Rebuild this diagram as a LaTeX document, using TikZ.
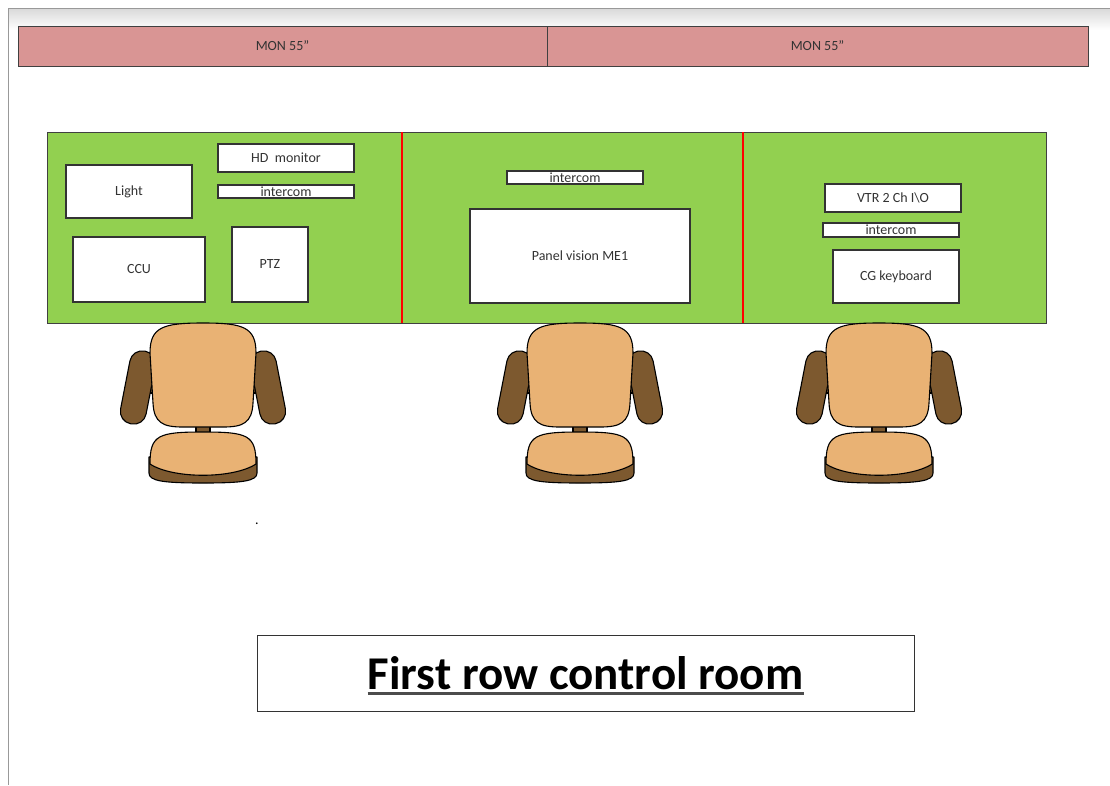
\documentclass[tikz,border=0pt]{standalone}
\usepackage{fontspec}
\setmainfont{Carlito}
\usepackage{tikz}
\usetikzlibrary{positioning}
\definecolor{monred}{RGB}{217,149,148}
\definecolor{deskgreen}{RGB}{146,208,80}
\definecolor{seattan}{RGB}{233,178,116}
\definecolor{armbrown}{RGB}{125,89,47}

\begin{document}
\begin{tikzpicture}[x=1pt,y=-1pt, every node/.style={font=\fontsize{14}{16}\selectfont}]
    \tikzset{monitor/.style={draw=black!75,line width=1pt,fill=monred,text=black!80,inner sep=0pt}}
    \tikzset{desk/.style={draw=black!75,line width=1pt,fill=deskgreen,inner sep=0pt}}
    \tikzset{unit/.style={draw=black!80,line width=1.1pt,fill=white,text=black!80,inner sep=0pt}}
    \tikzset{divider/.style={draw=red,line width=1.6pt}}
    \tikzset{chairline/.style={draw=black,line width=1.1pt,line join=round}}
    \useasboundingbox (0,0) rectangle (1110,785);

    % Page edge
    \shade[top color=gray!30,bottom color=white] (8,8) rectangle (1110,30);
    \draw[gray!80,line width=1pt] (1110,8) -- (8,8) -- (8,785);

    % Wall monitors
    \node[monitor,minimum width=529,minimum height=40] (monleft) at (282.5,46) {MON 55"};
    \node[monitor,minimum width=541,minimum height=40] (monright) at (817.5,46) {MON 55"};

    % Desk
    \node[desk,minimum width=999,minimum height=191] (desk) at (546.5,227.5) {};
    \draw[divider] (402,132) -- (402,323);
    \draw[divider] (743,132) -- (743,323);

    % Left position
    \node[unit,minimum width=136,minimum height=28] (hdmon) at (286,158) {HD\ \ monitor};
    \node[unit,minimum width=136,minimum height=13] (icomleft) at (286,191.5) {intercom};
    \node[unit,minimum width=126,minimum height=53] (light) at (129,191.5) {Light};
    \node[unit,minimum width=132,minimum height=65] (ccu) at (139,269.5) {CCU};
    \node[unit,minimum width=76,minimum height=75] (ptz) at (270,264.5) {PTZ};

    % Middle position
    \node[unit,minimum width=136,minimum height=13] (icommid) at (575,177.5) {intercom};
    \node[unit,minimum width=220,minimum height=94] (panel) at (580,256) {Panel vision ME1};

    % Right position
    \node[unit,minimum width=136,minimum height=28] (vtr) at (893,198) {VTR 2 Ch I\textbackslash O};
    \node[unit,minimum width=136,minimum height=14] (icomright) at (891,230) {intercom};
    \node[unit,minimum width=126,minimum height=53] (cgkey) at (896,276.5) {CG keyboard};

    % Chairs
    \foreach \cx in {203,580,879} {
      \begin{scope}[shift={(\cx,323)}]
        \fill[armbrown,chairline] (-62,55) rectangle (62,70);
        \fill[armbrown,chairline] (-7,100) rectangle (7,112);
        \begin{scope}[shift={(-65,64.5)},rotate=-11]
          \draw[chairline,fill=armbrown,rounded corners=12.5pt] (-13,-37) rectangle (13,37);
        \end{scope}
        \begin{scope}[shift={(65,64.5)},rotate=11]
          \draw[chairline,fill=armbrown,rounded corners=12.5pt] (-13,-37) rectangle (13,37);
        \end{scope}
        \draw[chairline,fill=seattan] (-53,30) .. controls (-53,4) and (-40,0) .. (0,0)
          .. controls (40,0) and (53,4) .. (53,30) -- (50,80)
          .. controls (49,100) and (40,104) .. (20,104) -- (-20,104)
          .. controls (-40,104) and (-49,100) .. (-50,80) -- cycle;
        \draw[chairline,fill=armbrown] (-54,134) -- (-54,150) .. controls (-54,158) and (-40,160) .. (0,160)
          .. controls (40,160) and (54,158) .. (54,150) -- (54,134) -- cycle;
        \draw[chairline,fill=seattan] (-53,141) .. controls (-53,112) and (-45,109) .. (0,109)
          .. controls (45,109) and (53,112) .. (53,141)
          .. controls (30,156) and (-30,156) .. cycle;
      \end{scope}
    }

    \node[inner sep=0pt] (dot) at (257,524) {.};

    % Title
    \node[draw=black!80,line width=1pt,minimum width=657,minimum height=76] (titlebox) at (585.5,673) {};
    \node[inner sep=0pt,font=\fontsize{47}{50}\selectfont\bfseries] (title) at (titlebox.center) {First row control room};
    \draw[black!70,line width=2.5pt] ([yshift=-4pt]title.base west) -- ([yshift=-4pt]title.base east);
  \end{tikzpicture}
\end{document}
